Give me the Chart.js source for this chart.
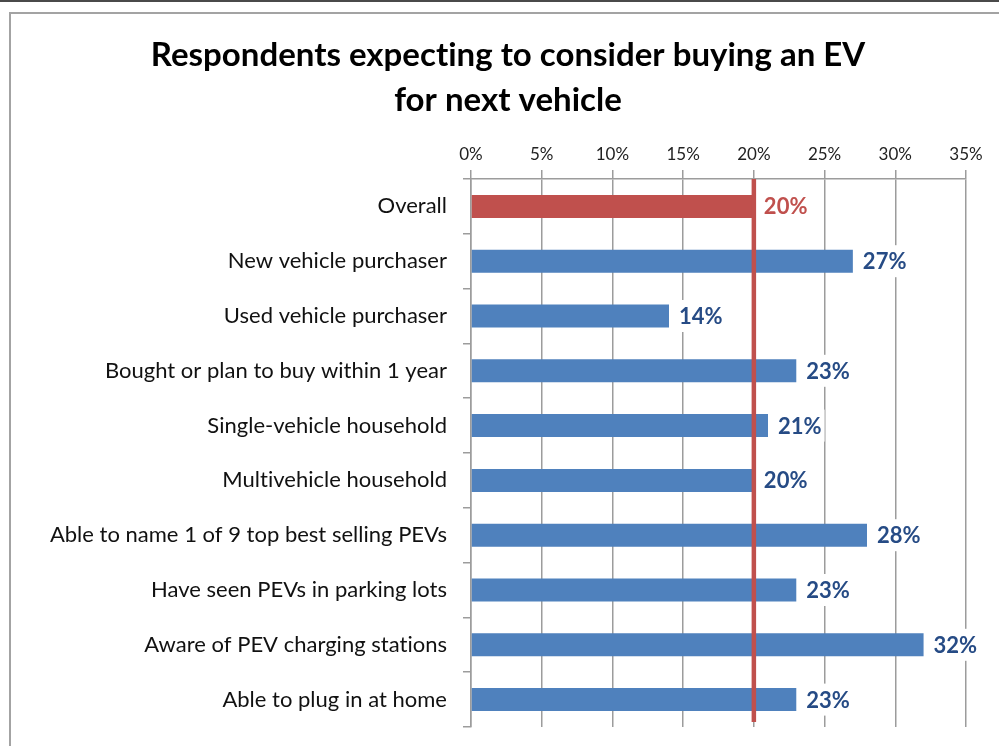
<!DOCTYPE html>
<html>
<head>
<meta charset="utf-8">
<script src="https://cdn.jsdelivr.net/npm/chart.js@4/dist/chart.umd.min.js"></script>
<style>
  html, body { margin: 0; padding: 0; background: #fff; }
  #wrap { position: relative; width: 999px; height: 746px; overflow: hidden; }
  #topRule { position: absolute; left: 0; top: 0; width: 999px; height: 2px; background: #4a4a4a; }
  #frame { position: absolute; left: 9px; top: 12px; width: 1100px; height: 900px;
           border-left: 2px solid #a3a3a3; border-top: 2px solid #a3a3a3; }
  canvas { position: absolute; left: 0; top: 0; }
</style>
</head>
<body>
<div id="wrap">
  <div id="topRule"></div>
  <div id="frame"></div>
  <canvas id="chart" width="999" height="746"></canvas>
</div>
<script>
// Survey groups and the share of each that expects to consider an EV
const categories = [
  'Overall',
  'New vehicle purchaser',
  'Used vehicle purchaser',
  'Bought or plan to buy within 1 year',
  'Single-vehicle household',
  'Multivehicle household',
  'Able to name 1 of 9 top best selling PEVs',
  'Have seen PEVs in parking lots',
  'Aware of PEV charging stations',
  'Able to plug in at home'
];
const values = [20, 27, 14, 23, 21, 20, 28, 23, 32, 23];
const tickValues = [0, 5, 10, 15, 20, 25, 30, 35];
const tickLabels = ['0%', '5%', '10%', '15%', '20%', '25%', '30%', '35%'];
const titleLines = ['Respondents expecting to consider buying an EV', 'for next vehicle'];

const RED = '#C0504D';
const BLUE = '#4F81BD';
const LABEL_BLUE = '#264B85';
const GRID = '#9c9c9c';
const FONT = 'Lato, "Open Sans", sans-serif';

// Benchmark line at the "Overall" value
const overallValue = values[0];

const barColors = values.map((v, i) => i === 0 ? RED : BLUE);
const labelColors = values.map((v, i) => i === 0 ? RED : LABEL_BLUE);

// Tiny letter spacing keeps "ti" from turning into a ligature
const plainText = {
  id: 'plainText',
  beforeDraw(chart) {
    if ('letterSpacing' in chart.ctx) chart.ctx.letterSpacing = '0.01px';
  }
};

const overallLine = {
  id: 'overallLine',
  afterDatasetsDraw(chart) {
    const { ctx, chartArea, scales } = chart;
    const x = scales.x.getPixelForValue(overallValue);
    ctx.save();
    ctx.strokeStyle = RED;
    ctx.lineWidth = 4.5;
    ctx.beginPath();
    ctx.moveTo(x, chartArea.top);
    ctx.lineTo(x, chartArea.bottom - 5);
    ctx.stroke();
    ctx.restore();
  }
};

const valueLabels = {
  id: 'valueLabels',
  afterDatasetsDraw(chart) {
    const { ctx } = chart;
    const meta = chart.getDatasetMeta(0);
    ctx.save();
    ctx.font = 'bold 22px ' + FONT;
    ctx.textAlign = 'left';
    ctx.textBaseline = 'middle';
    meta.data.forEach((bar, i) => {
      const text = values[i] + '%';
      const w = ctx.measureText(text).width;
      const x = bar.x + 10;
      ctx.fillStyle = '#ffffff';
      ctx.fillRect(x - 3, bar.y - 16, w + 6, 32);
      ctx.fillStyle = labelColors[i];
      ctx.fillText(text, x, bar.y + 1);
    });
    ctx.restore();
  }
};

new Chart(document.getElementById('chart'), {
  type: 'bar',
  data: {
    labels: categories,
    datasets: [{
      data: values,
      backgroundColor: barColors,
      borderWidth: 0,
      barPercentage: 0.42,
      categoryPercentage: 1.0
    }]
  },
  options: {
    indexAxis: 'y',
    responsive: false,
    animation: false,
    devicePixelRatio: 1,
    layout: { padding: { top: 0, left: 50, right: 33, bottom: 19 } },
    plugins: {
      legend: { display: false },
      tooltip: { enabled: false },
      title: {
        display: true,
        text: titleLines,
        color: '#000000',
        font: { family: FONT, size: 33, weight: 'bold', lineHeight: '45px' },
        padding: { top: 33, bottom: 0 }
      }
    },
    scales: {
      x: {
        position: 'top',
        min: 0,
        max: 35,
        afterBuildTicks(scale) {
          scale.ticks = tickValues.map(v => ({ value: v }));
        },
        afterFit(scale) {
          scale.height = 56;
          scale.paddingLeft = 0;
          scale.paddingRight = 0;
        },
        ticks: {
          color: '#222222',
          font: { family: FONT, size: 17 },
          padding: 5,
          maxRotation: 0,
          callback: (v) => tickLabels[tickValues.indexOf(v)]
        },
        grid: {
          color: GRID,
          lineWidth: 1.5,
          tickLength: 9,
          drawTicks: true,
          drawOnChartArea: true
        },
        border: { display: true, color: GRID, width: 1.5 }
      },
      y: {
        afterFit(scale) {
          scale.width = 421;
          scale.paddingTop = 0;
          scale.paddingBottom = 0;
        },
        ticks: {
          color: '#111111',
          font: { family: FONT, size: 22 },
          padding: 16
        },
        grid: {
          color: GRID,
          lineWidth: 1.5,
          tickLength: 8,
          offset: true,
          drawTicks: true,
          drawOnChartArea: false
        },
        border: { display: true, color: GRID, width: 1.5 }
      }
    }
  },
  plugins: [plainText, overallLine, valueLabels]
});
</script>
</body>
</html>
